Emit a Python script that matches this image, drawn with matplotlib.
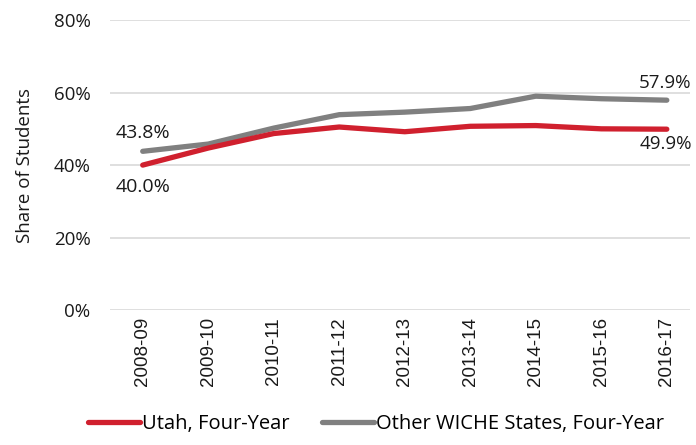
import matplotlib.pyplot as plt
from matplotlib.ticker import FuncFormatter

plt.rcParams['font.family'] = ['Open Sans', 'DejaVu Sans']

years = ['2008-09', '2009-10', '2010-11', '2011-12', '2012-13',
         '2013-14', '2014-15', '2015-16', '2016-17']
utah = [40.0, 44.7, 48.7, 50.5, 49.2, 50.7, 50.9, 50.0, 49.9]
wiche = [43.8, 45.8, 50.2, 53.9, 54.6, 55.6, 59.0, 58.3, 57.9]

red = '#d0202e'
gray = '#808080'
txt = '#1a1a1a'

fig = plt.figure(figsize=(6.96, 4.45), dpi=100)
ax = fig.add_axes([0.158, 0.303, 0.833, 0.652])

x = range(len(years))
ax.plot(x, utah, color=red, lw=3.8, solid_capstyle='round', label='Utah, Four-Year', zorder=3)
ax.plot(x, wiche, color=gray, lw=3.8, solid_capstyle='round', label='Other WICHE States, Four-Year', zorder=2)

ax.set_ylim(0, 80)
ax.set_xlim(-0.5, len(years) - 0.65)
ax.set_yticks([0, 20, 40, 60, 80])
ax.yaxis.set_major_formatter(FuncFormatter(lambda v, p: '%d%%' % v))
ax.set_xticks(list(x))
ax.set_xticklabels(years, rotation=90, family='Liberation Sans', fontsize=13.5)
ax.grid(axis='y', color='#d9d9d9', lw=1.2)
ax.set_axisbelow(True)
for s in ax.spines.values():
    s.set_visible(False)
ax.tick_params(axis='y', length=0, labelsize=13.5, colors=txt, pad=14)
ax.tick_params(axis='x', length=0, colors=txt, pad=5)
ax.set_ylabel('Share of Students', fontsize=13.5, color=txt, labelpad=14)

# end labels
ax.annotate('%.1f%%' % wiche[0], (0, wiche[0]), xytext=(0, 7), textcoords='offset points',
            ha='center', va='bottom', fontsize=14, color=txt)
ax.annotate('%.1f%%' % utah[0], (0, utah[0]), xytext=(0, -9), textcoords='offset points',
            ha='center', va='top', fontsize=14, color=txt)
ax.annotate('%.1f%%' % wiche[-1], (8, wiche[-1]), xytext=(-1, 6), textcoords='offset points',
            ha='center', va='bottom', fontsize=13.5, color=txt)
ax.annotate('%.1f%%' % utah[-1], (8, utah[-1]), xytext=(-1, -4), textcoords='offset points',
            ha='center', va='top', fontsize=13.5, color=txt)

fig.legend(loc='lower center', bbox_to_anchor=(0.54, -0.015), ncol=2, frameon=False,
           fontsize=14.5, handlelength=2.6, handletextpad=0.1, columnspacing=1.6)

fig.savefig('out.png', dpi=100)
